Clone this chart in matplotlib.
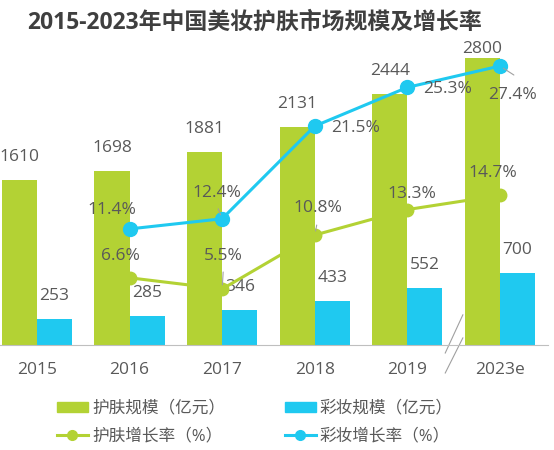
import numpy as np
import matplotlib

matplotlib.use("Agg")
import matplotlib.pyplot as plt  # noqa: E402
from matplotlib.lines import Line2D  # noqa: E402
from matplotlib.patches import Patch  # noqa: E402

plt.rcParams['font.family'] = ['Open Sans', 'Noto Sans CJK SC', 'DejaVu Sans']

# data
years = ["2015", "2016", "2017", "2018", "2019", "2023e"]
skincare_size = [1610, 1698, 1881, 2131, 2444, 2800]
makeup_size = [253, 285, 346, 433, 552, 700]
rate_years = ["2016", "2017", "2018", "2019", "2023e"]
skincare_growth = [6.6, 5.5, 10.8, 13.3, 14.7]
makeup_growth = [11.4, 12.4, 21.5, 25.3, 27.4]

GREEN = "#B3D234"
BLUE = "#1FC9F0"
TEXT = "#595959"
FS = 12.5

fig = plt.figure(figsize=(5.54, 4.5), dpi=100)
ax = fig.add_axes([0.0, 105 / 450, 548 / 554, 307.5 / 450])
ax2 = ax.twinx()

x = np.arange(len(years))
w = 0.38
ax.bar(x - w / 2, skincare_size, w, color=GREEN, zorder=2)
ax.bar(x + w / 2, makeup_size, w, color=BLUE, zorder=2)

# the last green label sits right on its bar (title is close above)
green_gap = [15, 15, 15, 15, 15, 1]
for xi, v, g in zip(x, skincare_size, green_gap):
    ax.annotate(str(v), (xi - w / 2, v), xytext=(0, g), textcoords='offset pixels',
                ha='center', va='bottom', fontsize=FS, color=TEXT)
for xi, v in zip(x, makeup_size):
    ax.annotate(str(v), (xi + w / 2, v), xytext=(0, 15), textcoords='offset pixels',
                ha='center', va='bottom', fontsize=FS, color=TEXT)

ax.set_xlim(-0.4, len(years) - 1 + 0.52)
ax.set_ylim(0, 3000)
ax2.set_ylim(0, 30.2)

rx = np.array([years.index(y) for y in rate_years])
ax2.plot(rx, skincare_growth, color=GREEN, lw=2.2, marker='o', ms=9, zorder=3)
ax2.plot(rx, makeup_growth, color=BLUE, lw=2.2, marker='o', ms=10, zorder=3)

# label offsets in pixels (dx, dy)
sk_off = [(-9, 22), (1, 33), (3, 27), (5, 16), (-7, 22)]
mk_off = [(-18, 19), (-5, 26), (41, -2), (40, -2), (13, -29)]
for xi, v, o in zip(rx, skincare_growth, sk_off):
    ax2.annotate(f"{v}%", (xi, v), xytext=o, textcoords='offset pixels',
                 ha='center', va='center', fontsize=FS, color=TEXT, zorder=5)
for xi, v, o in zip(rx, makeup_growth, mk_off):
    ax2.annotate(f"{v}%", (xi, v), xytext=o, textcoords='offset pixels',
                 ha='center', va='center', fontsize=FS, color=TEXT, zorder=5)

# small leader lines
leaders = [(skincare_growth[1], 1, (1, 17)), (skincare_growth[2], 2, (2, 10)),
           (makeup_growth[1], 1, (-4, 10)), (makeup_growth[4], 4, (14, -9))]
for v, i, o in leaders:
    ax2.annotate("", (rx[i], v), xytext=o, textcoords='offset pixels',
                 arrowprops=dict(arrowstyle='-', color='#A0A0A0', lw=0.8,
                                 shrinkA=0, shrinkB=3))

for a in (ax, ax2):
    for s in ('top', 'right', 'left'):
        a.spines[s].set_visible(False)
    a.set_yticks([])
ax2.spines['bottom'].set_visible(False)
ax.spines['bottom'].set_color('#BFBFBF')
ax.set_xticks(x)
ax.set_xticklabels(years, fontsize=FS, color=TEXT)
ax.tick_params(axis='x', length=0, pad=12)

# axis break marks between 2019 and 2023e
tr = ax.get_xaxis_transform()
ax.plot([4.41, 4.60], [-0.026, 0.098], color='#A0A0A0', lw=0.8, transform=tr, clip_on=False)
ax.plot([4.41, 4.60], [-0.091, 0.023], color='#A0A0A0', lw=0.8, transform=tr, clip_on=False)

fig.text(255 / 554, 1 - 23 / 450, "2015-2023年中国美妆护肤市场规模及增长率",
         ha='center', va='center', fontsize=16.5, fontweight='bold', color='#3F3F3F')

handles = [Patch(color=GREEN), Patch(color=BLUE),
           Line2D([], [], color=GREEN, lw=2.2, marker='o', ms=7),
           Line2D([], [], color=BLUE, lw=2.2, marker='o', ms=7)]
labels = ["护肤规模（亿元）", "彩妆规模（亿元）", "护肤增长率（%）", "彩妆增长率（%）"]
fig.legend([handles[0], handles[2], handles[1], handles[3]],
           [labels[0], labels[2], labels[1], labels[3]],
           ncol=2, loc='center left', bbox_to_anchor=(57 / 554, 1 - 422.5 / 450),
           frameon=False, fontsize=12, labelcolor=TEXT, handlelength=1.85,
           handleheight=0.6, columnspacing=3.6, labelspacing=0.7, handletextpad=0.25,
           borderpad=0, borderaxespad=0)

fig.savefig("out.png", dpi=100)
